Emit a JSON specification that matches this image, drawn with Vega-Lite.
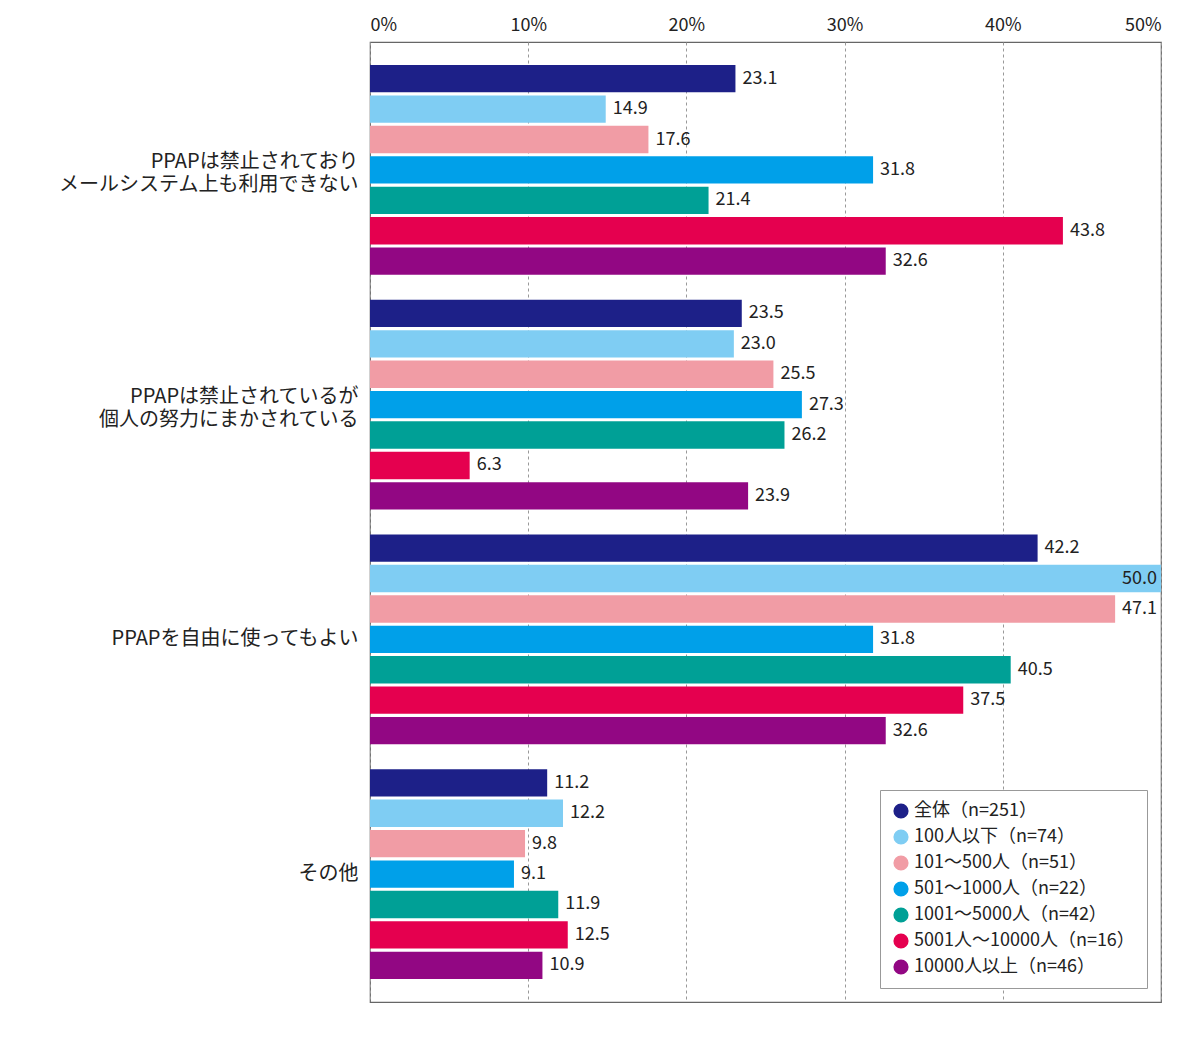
{
  "$schema": "https://vega.github.io/schema/vega-lite/v6.json",
  "width": 791,
  "height": 960,
  "autosize": "none",
  "padding": {"left": 370, "top": 42, "right": 39, "bottom": 35},
  "background": "white",
  "config": {
    "font": "Noto Sans CJK JP",
    "view": {"stroke": "#666666", "strokeWidth": 1.2},
    "axis": {"labelFont": "Noto Sans CJK JP", "labelColor": "#222222"},
    "legend": {"labelFont": "Noto Sans CJK JP"}
  },
  "data": {
    "values": [
      {"item": "PPAPは禁止されており\nメールシステム上も利用できない", "group": "全体（n=251）", "value": 23.1},
      {"item": "PPAPは禁止されており\nメールシステム上も利用できない", "group": "100人以下（n=74）", "value": 14.9},
      {"item": "PPAPは禁止されており\nメールシステム上も利用できない", "group": "101～500人（n=51）", "value": 17.6},
      {"item": "PPAPは禁止されており\nメールシステム上も利用できない", "group": "501～1000人（n=22）", "value": 31.8},
      {"item": "PPAPは禁止されており\nメールシステム上も利用できない", "group": "1001～5000人（n=42）", "value": 21.4},
      {"item": "PPAPは禁止されており\nメールシステム上も利用できない", "group": "5001人～10000人（n=16）", "value": 43.8},
      {"item": "PPAPは禁止されており\nメールシステム上も利用できない", "group": "10000人以上（n=46）", "value": 32.6},
      {"item": "PPAPは禁止されているが\n個人の努力にまかされている", "group": "全体（n=251）", "value": 23.5},
      {"item": "PPAPは禁止されているが\n個人の努力にまかされている", "group": "100人以下（n=74）", "value": 23.0},
      {"item": "PPAPは禁止されているが\n個人の努力にまかされている", "group": "101～500人（n=51）", "value": 25.5},
      {"item": "PPAPは禁止されているが\n個人の努力にまかされている", "group": "501～1000人（n=22）", "value": 27.3},
      {"item": "PPAPは禁止されているが\n個人の努力にまかされている", "group": "1001～5000人（n=42）", "value": 26.2},
      {"item": "PPAPは禁止されているが\n個人の努力にまかされている", "group": "5001人～10000人（n=16）", "value": 6.3},
      {"item": "PPAPは禁止されているが\n個人の努力にまかされている", "group": "10000人以上（n=46）", "value": 23.9},
      {"item": "PPAPを自由に使ってもよい", "group": "全体（n=251）", "value": 42.2},
      {"item": "PPAPを自由に使ってもよい", "group": "100人以下（n=74）", "value": 50.0},
      {"item": "PPAPを自由に使ってもよい", "group": "101～500人（n=51）", "value": 47.1},
      {"item": "PPAPを自由に使ってもよい", "group": "501～1000人（n=22）", "value": 31.8},
      {"item": "PPAPを自由に使ってもよい", "group": "1001～5000人（n=42）", "value": 40.5},
      {"item": "PPAPを自由に使ってもよい", "group": "5001人～10000人（n=16）", "value": 37.5},
      {"item": "PPAPを自由に使ってもよい", "group": "10000人以上（n=46）", "value": 32.6},
      {"item": "その他", "group": "全体（n=251）", "value": 11.2},
      {"item": "その他", "group": "100人以下（n=74）", "value": 12.2},
      {"item": "その他", "group": "101～500人（n=51）", "value": 9.8},
      {"item": "その他", "group": "501～1000人（n=22）", "value": 9.1},
      {"item": "その他", "group": "1001～5000人（n=42）", "value": 11.9},
      {"item": "その他", "group": "5001人～10000人（n=16）", "value": 12.5},
      {"item": "その他", "group": "10000人以上（n=46）", "value": 10.9}
    ]
  },
  "encoding": {
    "y": {
      "field": "item",
      "type": "nominal",
      "sort": null,
      "title": null,
      "scale": {"paddingInner": 0.106, "paddingOuter": 0.098},
      "axis": {
        "domain": false,
        "ticks": false,
        "labelFontSize": 20,
        "labelPadding": 12,
        "labelLineHeight": 23,
        "labelLimit": 400,
        "labelOffset": {"condition": {"test": "indexof(datum.value, '\\n') >= 0", "value": -8}, "value": 0},
        "labelExpr": "split(datum.label, '\\n')"
      }
    },
    "yOffset": {
      "field": "group",
      "type": "nominal",
      "sort": null,
      "scale": {"paddingInner": 0.1, "paddingOuter": 0}
    },
    "x": {
      "field": "value",
      "type": "quantitative",
      "title": null,
      "scale": {"domain": [0, 50], "nice": false},
      "axis": {
        "orient": "top",
        "values": [0, 10, 20, 30, 40, 50],
        "labelExpr": "datum.value + '%'",
        "labelFontSize": 18,
        "labelPadding": 8,
        "domain": false,
        "ticks": false,
        "gridColor": "#999999",
        "gridDash": [3, 3],
        "gridWidth": 1
      }
    }
  },
  "layer": [
    {
      "mark": {"type": "bar"},
      "encoding": {
        "color": {
          "field": "group",
          "type": "nominal",
          "sort": null,
          "scale": {
            "domain": ["全体（n=251）", "100人以下（n=74）", "101～500人（n=51）", "501～1000人（n=22）", "1001～5000人（n=42）", "5001人～10000人（n=16）", "10000人以上（n=46）"],
            "range": ["#1d2088", "#7fcdf3", "#f19ca5", "#00a0e9", "#00a096", "#e5004f", "#920783"]
          },
          "legend": {
            "title": null,
            "orient": "bottom-right",
            "offset": 14,
            "symbolType": "circle",
            "symbolSize": 230,
            "symbolStrokeWidth": 0,
            "labelFontSize": 18,
            "labelColor": "#222222",
            "rowPadding": 8,
            "padding": 12,
            "strokeColor": "#999999",
            "fillColor": "white",
            "labelLimit": 300
          }
        }
      }
    },
    {
      "transform": [{"filter": "datum.value < 50"}],
      "mark": {"type": "text", "align": "left", "baseline": "middle", "dx": 7, "fontSize": 18, "color": "#222222"},
      "encoding": {"text": {"field": "value", "type": "quantitative", "format": ".1f"}}
    },
    {
      "transform": [{"filter": "datum.value >= 50"}],
      "mark": {"type": "text", "align": "right", "baseline": "middle", "dx": -4, "fontSize": 18, "color": "#222222"},
      "encoding": {"text": {"field": "value", "type": "quantitative", "format": ".1f"}}
    }
  ]
}
